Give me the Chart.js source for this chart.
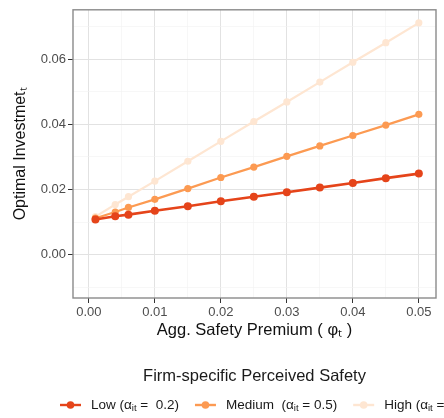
<!DOCTYPE html>
<html>
<head>
<meta charset="utf-8">
<script src="https://cdn.jsdelivr.net/npm/chart.js@4/dist/chart.umd.min.js"></script>
<style>
  html, body { margin: 0; padding: 0; background: #ffffff; overflow: hidden; }
  #wrap { width: 444px; height: 418px; position: relative; }
</style>
</head>
<body>
<div id="wrap"><canvas id="c" width="444" height="418"></canvas></div>
<script>
// ---- data ----
const xValues = [0.001, 0.004, 0.006, 0.01, 0.015, 0.02, 0.025, 0.03, 0.035, 0.04, 0.045, 0.05];
const lowValues    = [0.0108, 0.0118, 0.0123, 0.0135, 0.0149, 0.0164, 0.0178, 0.0192, 0.0206, 0.0220, 0.0235, 0.0249];
const mediumValues = [0.0112, 0.0131, 0.0145, 0.0170, 0.0203, 0.0237, 0.0269, 0.0302, 0.0334, 0.0366, 0.0398, 0.0431];
const highValues   = [0.0117, 0.0154, 0.0178, 0.0226, 0.0287, 0.0348, 0.0409, 0.0469, 0.0530, 0.0591, 0.0651, 0.0712];
const seriesNames  = ['Low', 'Medium', 'High'];
const seriesAlpha  = ['0.2', '0.5', '1'];
const xTickLabels  = [0, 0.01, 0.02, 0.03, 0.04, 0.05];
const xMinorTicks  = [0.005, 0.015, 0.025, 0.035, 0.045];
const yTickLabels  = [0, 0.02, 0.04, 0.06];
const yMinorTicks  = [-0.01, 0.01, 0.03, 0.05, 0.07];

const colors = ['#e5441a', '#fc9a52', '#fee6d2'];
const FONT = '"Liberation Sans", Arial, sans-serif';

function pts(vals) { return xValues.map((x, i) => ({x: x, y: vals[i]})); }

const datasets = [lowValues, mediumValues, highValues].map((vals, i) => ({
  label: seriesNames[i],
  data: pts(vals),
  borderColor: colors[i],
  backgroundColor: colors[i],
  borderWidth: i === 0 ? 2.6 : 2.2,
  pointRadius: i === 0 ? 4 : 3.6,
  pointBorderWidth: 0,
  pointHoverRadius: 4,
  tension: 0
}));

function isMajor(v, arr) { return arr.some(a => Math.abs(a - v) < 1e-9); }

const borderPlugin = {
  id: 'panelBorder',
  afterDraw(chart) {
    const a = chart.chartArea, ctx = chart.ctx;
    ctx.save();
    ctx.strokeStyle = '#8a8a8a';
    ctx.lineWidth = 1.4;
    ctx.strokeRect(a.left, a.top, a.right - a.left, a.bottom - a.top);
    ctx.restore();
  }
};

function drawRich(ctx, x, y, parts) {
  let cx = x;
  parts.forEach(p => {
    if (p.sub) {
      ctx.font = '9.5px ' + FONT;
      ctx.fillText(p.t, cx, y + 3);
    } else {
      ctx.font = '13.5px ' + FONT;
      ctx.fillText(p.t, cx, y);
    }
    cx += ctx.measureText(p.t).width;
  });
  return cx;
}

const legendPlugin = {
  id: 'ggLegend',
  afterDraw(chart) {
    const ctx = chart.ctx, a = chart.chartArea;
    ctx.save();
    ctx.fillStyle = '#1a1a1a';
    ctx.font = '16.5px ' + FONT;
    ctx.textAlign = 'center';
    ctx.textBaseline = 'middle';
    ctx.fillText('Firm-specific Perceived Safety', (a.left + a.right) / 2, 376);
    ctx.textAlign = 'left';
    const rowY = 405;
    let x = 60;
    const gaps = [' =  ', ' = ', ' = '];
    chart.data.datasets.forEach((ds, i) => {
      ctx.strokeStyle = ds.borderColor;
      ctx.lineWidth = 2.4;
      ctx.beginPath(); ctx.moveTo(x, rowY); ctx.lineTo(x + 21, rowY); ctx.stroke();
      ctx.fillStyle = ds.borderColor;
      ctx.beginPath(); ctx.arc(x + 10.5, rowY, 3.8, 0, Math.PI * 2); ctx.fill();
      ctx.fillStyle = '#1a1a1a';
      const name = ds.label + (i === 1 ? '  (' : ' (');
      const end = drawRich(ctx, x + 31, rowY, [
        {t: name}, {t: '\u03b1'}, {t: 'it', sub: true}, {t: gaps[i] + seriesAlpha[i] + ')'}
      ]);
      x = end + 16;
    });
    ctx.restore();
  }
};

new Chart(document.getElementById('c'), {
  type: 'line',
  data: { datasets: datasets },
  plugins: [borderPlugin, legendPlugin],
  options: {
    responsive: false,
    animation: false,
    devicePixelRatio: 1,
    layout: { padding: { left: 0, right: 8, top: 6, bottom: 78 } },
    plugins: { legend: { display: false }, tooltip: { enabled: false } },
    scales: {
      x: {
        type: 'linear',
        min: -0.0024, max: 0.0526,
        afterBuildTicks(scale) {
          scale.ticks = xTickLabels.concat(xMinorTicks).sort((p, q) => p - q).map(v => ({value: v}));
        },
        afterFit(scale) { scale.height = 42; },
        border: { display: false },
        grid: {
          color: ctx => isMajor(ctx.tick.value, xTickLabels) ? '#e2e2e2' : '#f2f2f2',
          lineWidth: ctx => isMajor(ctx.tick.value, xTickLabels) ? 1 : 0.6,
          tickColor: ctx => isMajor(ctx.tick.value, xTickLabels) ? '#333333' : 'rgba(0,0,0,0)',
          tickLength: 5,
          drawTicks: true
        },
        ticks: {
          autoSkip: false, maxRotation: 0, padding: 2,
          color: '#4d4d4d', font: { size: 13, family: FONT },
          callback: v => isMajor(v, xTickLabels) ? v.toFixed(2) : ''
        },
        title: {
          display: true, text: 'Agg. Safety Premium ( \u03c6\u209c )',
          color: '#111', font: { size: 16.5, family: FONT }, padding: { top: 1, bottom: 0 }
        }
      },
      y: {
        type: 'linear',
        min: -0.0133, max: 0.0752,
        afterBuildTicks(scale) {
          scale.ticks = yTickLabels.concat(yMinorTicks).sort((p, q) => p - q).map(v => ({value: v}));
        },
        afterFit(scale) { scale.width = 73; },
        border: { display: false },
        grid: {
          color: ctx => isMajor(ctx.tick.value, yTickLabels) ? '#e2e2e2' : '#f2f2f2',
          lineWidth: ctx => isMajor(ctx.tick.value, yTickLabels) ? 1 : 0.6,
          tickColor: ctx => isMajor(ctx.tick.value, yTickLabels) ? '#333333' : 'rgba(0,0,0,0)',
          tickLength: 5
        },
        ticks: {
          autoSkip: false, padding: 2,
          color: '#4d4d4d', font: { size: 13, family: FONT },
          callback: v => isMajor(v, yTickLabels) ? v.toFixed(2) : ''
        },
        title: {
          display: true, text: 'Optimal Investmet\u209c',
          color: '#111', font: { size: 16, family: FONT }, padding: { top: 11, bottom: 6 }
        }
      }
    }
  }
});
</script>
</body>
</html>
